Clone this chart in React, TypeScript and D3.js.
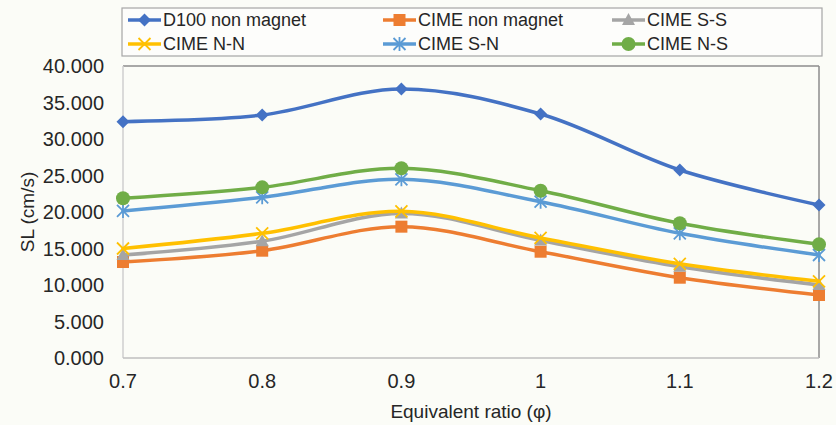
import React from "react";
import * as d3 from "d3";

const categories = ["0.7", "0.8", "0.9", "1", "1.1", "1.2"];
const yTicks = [0, 5, 10, 15, 20, 25, 30, 35, 40];

const seriesNames = ["D100 non magnet", "CIME non magnet", "CIME S-S", "CIME N-N", "CIME S-N", "CIME N-S"];
const d100 = [32.37, 33.29, 36.85, 33.42, 25.75, 20.96];
const cimeNon = [13.15, 14.7, 17.99, 14.56, 11.0, 8.63];
const cimeSS = [14.1, 16.0, 19.8, 16.1, 12.5, 10.0];
const cimeNN = [15.0, 17.08, 20.1, 16.45, 12.9, 10.5];
const cimeSN = [20.14, 22.01, 24.48, 21.41, 17.08, 14.11];
const cimeNS = [21.88, 23.38, 25.99, 22.92, 18.45, 15.57];

const seriesValues = [d100, cimeNon, cimeSS, cimeNN, cimeSN, cimeNS];
const colors = ["#4472C4", "#ED7D31", "#A5A5A5", "#FFC000", "#5B9BD5", "#70AD47"];
const markers = ["diamond", "square", "triangle", "x", "star", "circle"];

const W = 836, H = 425;
const M = { left: 123, right: 819, top: 66, bottom: 358 };
const FONT = "'Liberation Sans', Arial, sans-serif";

function Marker({ type, x, y, color }: { type: string; x: number; y: number; color: string }) {
  const s = 6.5;
  switch (type) {
    case "diamond":
      return <path d={`M${x},${y - s}L${x + s},${y}L${x},${y + s}L${x - s},${y}Z`} fill={color} />;
    case "square":
      return <rect x={x - 6} y={y - 6} width={12} height={12} fill={color} />;
    case "triangle":
      return <path d={`M${x},${y - 7}L${x + 6.5},${y + 5}L${x - 6.5},${y + 5}Z`} fill={color} />;
    case "x":
      return (
        <path d={`M${x - 6},${y - 6}L${x + 6},${y + 6}M${x + 6},${y - 6}L${x - 6},${y + 6}`} stroke={color} strokeWidth={1.8} fill="none" />
      );
    case "star":
      return (
        <path
          d={`M${x - 6},${y - 6}L${x + 6},${y + 6}M${x + 6},${y - 6}L${x - 6},${y + 6}M${x},${y - 7}L${x},${y + 7}`}
          stroke={color}
          strokeWidth={1.8}
          fill="none"
        />
      );
    case "circle":
      return <circle cx={x} cy={y} r={7} fill={color} />;
    default:
      return null;
  }
}

export default function App() {
  const x = d3.scalePoint<string>().domain(categories).range([M.left, M.right]);
  const y = d3.scaleLinear().domain([0, 40]).range([M.bottom, M.top]);
  const fmt = d3.format(".3f");
  const line = d3
    .line<number>()
    .x((_, i) => x(categories[i]) as number)
    .y((d) => y(d))
    .curve(d3.curveCatmullRom.alpha(0.5));

  const legendCols = [128, 383, 612];
  const legendRows = [20, 44];

  return (
    <svg width={W} height={H} style={{ position: "absolute", left: 0, top: 0, background: "#fbfcf7" }} fontFamily={FONT}>
      <rect x={0} y={0} width={W} height={H} fill="#fbfcf7" />
      {/* plot frame */}
      <line x1={M.left} x2={M.right} y1={M.top} y2={M.top} stroke="#8c8c8c" strokeWidth={1.5} />
      <line x1={M.right} x2={M.right} y1={M.top} y2={M.bottom} stroke="#8c8c8c" strokeWidth={1.5} />
      <line x1={M.left} x2={M.left} y1={M.top} y2={M.bottom} stroke="#cfcfcf" strokeWidth={1.5} />
      <line x1={M.left} x2={M.right} y1={M.bottom} y2={M.bottom} stroke="#bfbfbf" strokeWidth={1.5} />

      {/* y ticks */}
      {yTicks.map((t) => (
        <text key={t} x={104} y={y(t)} dy="0.35em" textAnchor="end" fontSize={20} fill="#262626">
          {fmt(t)}
        </text>
      ))}
      {/* x ticks */}
      {categories.map((c) => (
        <text key={c} x={x(c)} y={388} textAnchor="middle" fontSize={20} fill="#262626">
          {c}
        </text>
      ))}
      <text x={(M.left + M.right) / 2} y={418} textAnchor="middle" fontSize={19} fill="#262626">
        Equivalent ratio (φ)
      </text>
      <text transform={`translate(34,212) rotate(-90)`} textAnchor="middle" fontSize={19} fill="#262626">
        SL (cm/s)
      </text>

      {/* series */}
      {seriesValues.map((vals, si) => (
        <g key={si}>
          <path d={line(vals) || ""} fill="none" stroke={colors[si]} strokeWidth={3.5} strokeLinecap="round" />
          {vals.map((v, i) => (
            <Marker key={i} type={markers[si]} x={x(categories[i]) as number} y={y(v)} color={colors[si]} />
          ))}
        </g>
      ))}

      {/* legend */}
      <rect x={122} y={8} width={700} height={48} fill="#fdfdfb" stroke="#a6a6a6" strokeWidth={1.2} />
      {seriesNames.map((name, i) => {
        const cx = legendCols[i % 3];
        const cy = legendRows[Math.floor(i / 3)];
        return (
          <g key={name}>
            <line x1={cx} x2={cx + 33} y1={cy} y2={cy} stroke={colors[i]} strokeWidth={3.5} />
            <Marker type={markers[i]} x={cx + 16.5} y={cy} color={colors[i]} />
            <text x={cx + 35} y={cy} dy="0.35em" fontSize={18} fill="#262626">
              {name}
            </text>
          </g>
        );
      })}
    </svg>
  );
}
